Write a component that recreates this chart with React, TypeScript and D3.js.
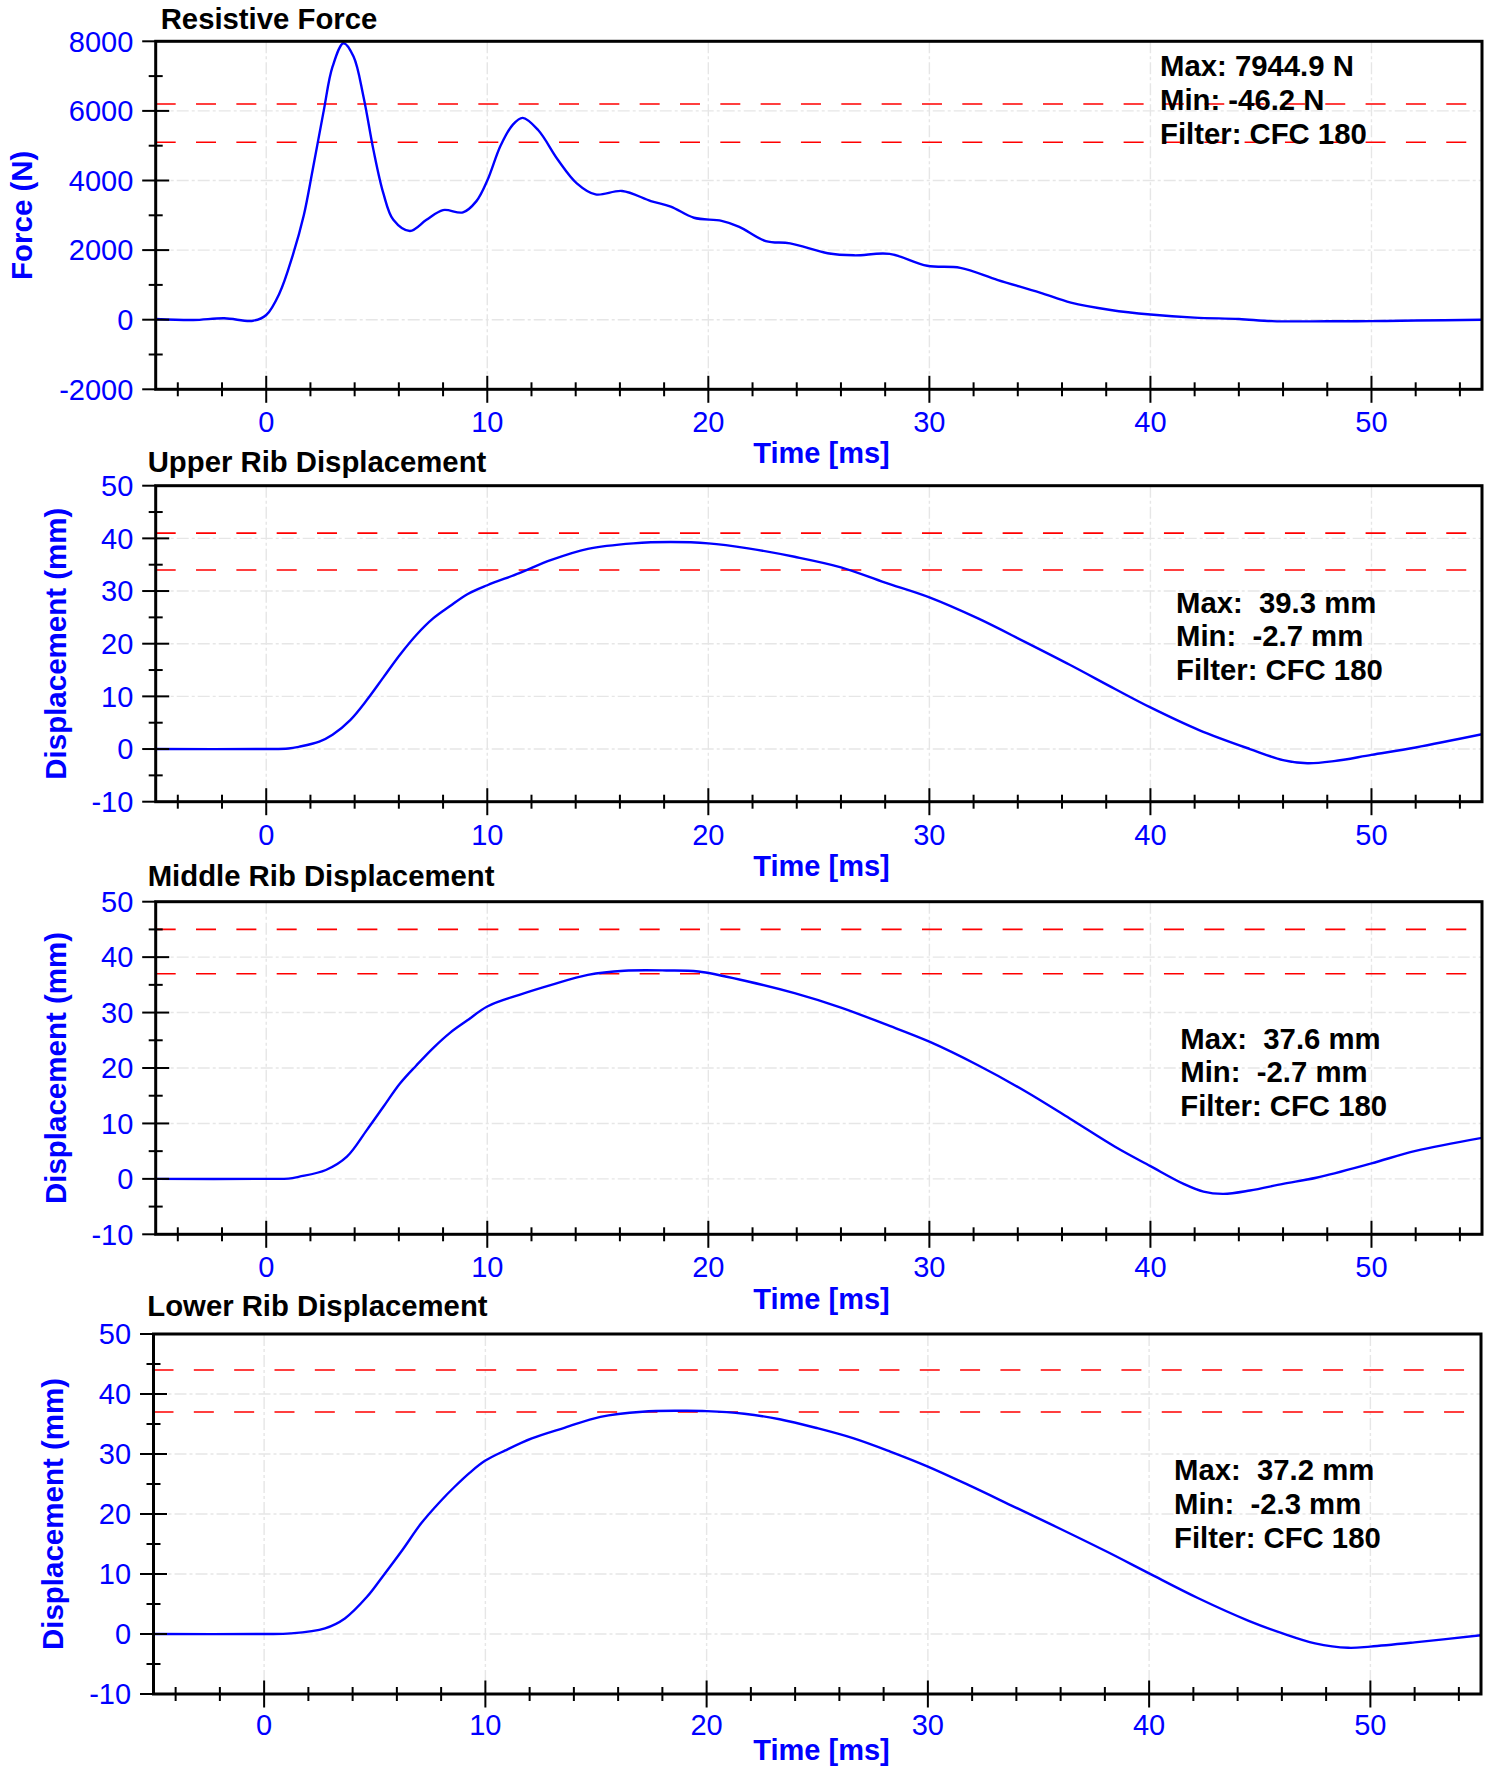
import React from "react";
import * as d3 from "d3";

// ---------- data ----------
const timeDomain = [-5, 55];
const timeMajorTicks = [0, 10, 20, 30, 40, 50];
const timeMinorTicks = [-4, -2, 2, 4, 6, 8, 12, 14, 16, 18, 22, 24, 26, 28, 32, 34, 36, 38, 42, 44, 46, 48, 52, 54];

const forceYTicks = [-2000, 0, 2000, 4000, 6000, 8000];
const forceYMinor = [-1000, 1000, 3000, 5000, 7000];
const dispYTicks = [-10, 0, 10, 20, 30, 40, 50];
const dispYMinor = [-5, 5, 15, 25, 35, 45];

const forceT = [-5, -3.3, -1.9, -0.6, 0, 0.6, 1.2, 1.7, 2.1, 2.6, 3.0, 3.5, 3.95, 4.4, 4.85, 5.3, 5.75, 6.5, 7.25, 8.0, 8.9, 9.5, 10.0, 10.6, 11.15, 11.6, 12.3, 13.2, 14.05, 14.9, 16.1, 17.4, 18.3, 19.35, 20.6, 21.4, 22.6, 23.7, 25.4, 26.6, 28.2, 29.9, 31.4, 33.1, 35.0, 36.4, 38.2, 40.0, 42.0, 44.0, 45.5, 48.0, 50.0, 52.0, 55.0];
const forceN = [20, -10, 40, -30, 135, 760, 1850, 3000, 4300, 6000, 7270, 7945, 7560, 6410, 4880, 3630, 2870, 2550, 2870, 3150, 3085, 3400, 4000, 5000, 5600, 5800, 5450, 4590, 3920, 3600, 3700, 3410, 3250, 2930, 2840, 2670, 2260, 2195, 1910, 1850, 1890, 1550, 1490, 1140, 780, 490, 280, 150, 60, 20, -40, -46, -40, -25, 0];

const upperT = [-5, 0, 1, 1.5, 2.4, 3.0, 3.8, 4.55, 5.3, 6.05, 6.8, 7.55, 8.3, 9.1, 10, 11.45, 12.9, 14.55, 16.6, 18.3, 20, 21.8, 23.9, 26, 28, 30, 32.2, 34.3, 36.35, 38.4, 40, 42.2, 44.5, 46, 47.1, 48.3, 50, 52, 55];
const upperD = [0, 0, 0.1, 0.45, 1.4, 2.7, 5.5, 9.3, 13.6, 17.9, 21.7, 24.8, 27.1, 29.4, 31.1, 33.4, 35.9, 38, 39.05, 39.3, 39.05, 38.1, 36.5, 34.5, 31.6, 28.8, 24.8, 20.4, 16, 11.4, 7.9, 3.6, 0, -2.1, -2.7, -2.3, -1.1, 0.3, 2.8];

const middleT = [-5, 0, 1, 1.5, 2.7, 3.65, 4.55, 5.3, 6.05, 6.8, 7.55, 8.3, 9.1, 10, 11.45, 12.9, 14.55, 16.2, 18.1, 19.55, 21.8, 23.9, 26, 28, 30, 32.2, 34.3, 36.35, 38.4, 40, 41.5, 42.4, 43.3, 44.5, 46, 47.5, 50, 52, 55];
const middleD = [0, 0, 0.05, 0.4, 1.6, 4.0, 8.8, 13, 17.2, 20.5, 23.6, 26.3, 28.6, 31.1, 33.2, 35, 36.8, 37.55, 37.6, 37.4, 35.6, 33.5, 30.9, 27.9, 24.75, 20.5, 15.9, 10.9, 5.8, 2.3, -0.9, -2.3, -2.7, -2.1, -0.9, 0.2, 2.8, 5.05, 7.4];

const lowerT = [-5, 0, 1.2, 2.75, 3.65, 4.65, 5.35, 6.25, 7.1, 7.95, 8.6, 9.3, 10, 10.9, 12.1, 13.6, 15.2, 17.1, 18.8, 20, 21.7, 23.3, 25, 26.65, 28.3, 30, 31.85, 33.9, 36, 38.1, 40, 42.2, 44.5, 46, 47.5, 49, 50, 52, 55];
const lowerD = [0, 0, 0.1, 0.95, 2.6, 6.2, 9.55, 14, 18.45, 22.05, 24.5, 26.9, 28.9, 30.6, 32.6, 34.4, 36.2, 37.05, 37.2, 37.15, 36.7, 35.8, 34.3, 32.6, 30.4, 27.9, 24.8, 21.2, 17.5, 13.7, 10.1, 6, 2.2, 0.15, -1.55, -2.3, -2.1, -1.4, -0.2];

const forceLimits = [6200, 5100];
const upperLimits = [41, 34];
const middleLimits = [45, 37];
const lowerLimits = [44, 37];

const titles = ["Resistive Force", "Upper Rib Displacement", "Middle Rib Displacement", "Lower Rib Displacement"];
const yLabels = ["Force (N)", "Displacement (mm)", "Displacement (mm)", "Displacement (mm)"];
const xLabel = "Time [ms]";

const forceStats = ["Max: 7944.9 N", "Min: -46.2 N", "Filter: CFC 180"];
const upperStats = ["Max:  39.3 mm", "Min:  -2.7 mm", "Filter: CFC 180"];
const middleStats = ["Max:  37.6 mm", "Min:  -2.7 mm", "Filter: CFC 180"];
const lowerStats = ["Max:  37.2 mm", "Min:  -2.3 mm", "Filter: CFC 180"];

// ---------- layout ----------
const FONT = "'Liberation Sans', Arial, Helvetica, sans-serif";
const BLUE = "#0000ff";

type PanelCfg = {
  left: number; right: number; top: number; bottom: number;
  yDomain: number[]; yTicks: number[]; yMinor: number[];
  t: number[]; v: number[]; limits: number[];
  title: string; titleX: number; titleY: number;
  yLabel: string; yLabelX: number;
  stats: string[]; statsX: number; statsY: number; statsDy: number;
  tickLabelDy: number; xLabelDy: number;
};

const panels: PanelCfg[] = [
  {
    left: 155.7, right: 1482, top: 41.3, bottom: 389.3,
    yDomain: [-2000, 8000], yTicks: forceYTicks, yMinor: forceYMinor,
    t: forceT, v: forceN, limits: forceLimits,
    title: titles[0], titleX: 160.7, titleY: 29.3,
    yLabel: yLabels[0], yLabelX: 32.3,
    stats: forceStats, statsX: 1160, statsY: 76, statsDy: 34,
    tickLabelDy: 43, xLabelDy: 73.5,
  },
  {
    left: 155.7, right: 1482, top: 485.7, bottom: 801.7,
    yDomain: [-10, 50], yTicks: dispYTicks, yMinor: dispYMinor,
    t: upperT, v: upperD, limits: upperLimits,
    title: titles[1], titleX: 147.7, titleY: 472.3,
    yLabel: yLabels[1], yLabelX: 65.7,
    stats: upperStats, statsX: 1176, statsY: 612.7, statsDy: 33.4,
    tickLabelDy: 43, xLabelDy: 74.5,
  },
  {
    left: 155.7, right: 1482, top: 901.7, bottom: 1234.3,
    yDomain: [-10, 50], yTicks: dispYTicks, yMinor: dispYMinor,
    t: middleT, v: middleD, limits: middleLimits,
    title: titles[2], titleX: 147.7, titleY: 885.7,
    yLabel: yLabels[2], yLabelX: 65.7,
    stats: middleStats, statsX: 1180.3, statsY: 1048.5, statsDy: 33.6,
    tickLabelDy: 43, xLabelDy: 74.5,
  },
  {
    left: 153.5, right: 1481, top: 1334, bottom: 1694,
    yDomain: [-10, 50], yTicks: dispYTicks, yMinor: dispYMinor,
    t: lowerT, v: lowerD, limits: lowerLimits,
    title: titles[3], titleX: 147.3, titleY: 1315.5,
    yLabel: yLabels[3], yLabelX: 63.3,
    stats: lowerStats, statsX: 1174, statsY: 1479.5, statsDy: 34,
    tickLabelDy: 41, xLabelDy: 66,
  },
];

function Panel({ cfg, idx }: { cfg: PanelCfg; idx: number }) {
  const x = d3.scaleLinear().domain(timeDomain).range([cfg.left, cfg.right]);
  const y = d3.scaleLinear().domain(cfg.yDomain).range([cfg.bottom, cfg.top]);
  const pts: [number, number][] = cfg.t.map((t, i) => [t, cfg.v[i]]);
  const line = d3
    .line<[number, number]>()
    .x((d) => x(d[0]))
    .y((d) => y(d[1]))
    .curve(d3.curveCatmullRom.alpha(0.5));
  const clipId = `clip-${idx}`;
  const w = cfg.right - cfg.left;
  const h = cfg.bottom - cfg.top;
  const midY = (cfg.top + cfg.bottom) / 2;
  const gridColor = "#e6e6e6";

  return (
    <g>
      <defs>
        <clipPath id={clipId}>
          <rect x={cfg.left} y={cfg.top} width={w} height={h} />
        </clipPath>
      </defs>
      {/* grid */}
      {timeMajorTicks.map((t) => (
        <line key={`gx${t}`} x1={x(t)} x2={x(t)} y1={cfg.top} y2={cfg.bottom}
          stroke={gridColor} strokeWidth={1.4} strokeDasharray="12 3 3 3" />
      ))}
      {cfg.yTicks.slice(1, -1).map((v) => (
        <line key={`gy${v}`} x1={cfg.left} x2={cfg.right} y1={y(v)} y2={y(v)}
          stroke={gridColor} strokeWidth={1.4} strokeDasharray="12 3 3 3" />
      ))}
      {/* limits */}
      {cfg.limits.map((v) => (
        <line key={`lim${v}`} x1={cfg.left} x2={cfg.right} y1={y(v)} y2={y(v)}
          stroke="#ff0000" strokeWidth={1.6} strokeDasharray="20 20.33" />
      ))}
      {/* curve */}
      <path d={line(pts) || ""} fill="none" stroke={BLUE} strokeWidth={2.4}
        clipPath={`url(#${clipId})`} strokeLinejoin="round" />
      {/* frame */}
      <rect x={cfg.left} y={cfg.top} width={w} height={h} fill="none" stroke="#000" strokeWidth={3} />
      {/* y ticks */}
      {cfg.yTicks.map((v) => (
        <line key={`yt${v}`} x1={cfg.left - 13.5} x2={v === cfg.yDomain[1] || v === cfg.yDomain[0] ? cfg.left : cfg.left + 13.5}
          y1={y(v)} y2={y(v)} stroke="#000" strokeWidth={2} />
      ))}
      {cfg.yMinor.map((v) => (
        <line key={`ym${v}`} x1={cfg.left - 7} x2={cfg.left + 7} y1={y(v)} y2={y(v)} stroke="#000" strokeWidth={2} />
      ))}
      {/* x ticks */}
      {timeMajorTicks.map((t) => (
        <line key={`xt${t}`} x1={x(t)} x2={x(t)} y1={cfg.bottom - 13.5} y2={cfg.bottom + 13.5} stroke="#000" strokeWidth={2} />
      ))}
      {timeMinorTicks.map((t) => (
        <line key={`xm${t}`} x1={x(t)} x2={x(t)} y1={cfg.bottom - 7} y2={cfg.bottom + 7} stroke="#000" strokeWidth={2} />
      ))}
      {/* y tick labels */}
      {cfg.yTicks.map((v) => (
        <text key={`yl${v}`} x={cfg.left - 22.4} y={y(v) + 10.3} textAnchor="end"
          fontFamily={FONT} fontSize={29} fill={BLUE}>{v}</text>
      ))}
      {/* x tick labels */}
      {timeMajorTicks.map((t) => (
        <text key={`xl${t}`} x={x(t)} y={cfg.bottom + cfg.tickLabelDy} textAnchor="middle"
          fontFamily={FONT} fontSize={29} fill={BLUE}>{t}</text>
      ))}
      {/* x label */}
      <text x={821.5} y={cfg.bottom + cfg.xLabelDy} textAnchor="middle" fontFamily={FONT}
        fontSize={29} fontWeight="bold" fill={BLUE}>{xLabel}</text>
      {/* y label */}
      <text transform={`translate(${cfg.yLabelX},${midY}) rotate(-90)`} textAnchor="middle"
        fontFamily={FONT} fontSize={29.5} fontWeight="bold" fill={BLUE}>{cfg.yLabel}</text>
      {/* title */}
      <text x={cfg.titleX} y={cfg.titleY} fontFamily={FONT} fontSize={29.3} fontWeight="bold" fill="#000">{cfg.title}</text>
      {/* stats */}
      {cfg.stats.map((s, i) => (
        <text key={`st${i}`} x={cfg.statsX} y={cfg.statsY + i * cfg.statsDy} fontFamily={FONT}
          fontSize={29.3} fontWeight="bold" fill="#000" style={{ whiteSpace: "pre" }}>{s}</text>
      ))}
    </g>
  );
}

export default function App() {
  return (
    <svg width={1492} height={1766} viewBox="0 0 1492 1766"
      style={{ position: "absolute", left: 0, top: 0, background: "#fff" }}>
      <rect x={0} y={0} width={1492} height={1766} fill="#fff" />
      {panels.map((p, i) => (
        <Panel key={i} cfg={p} idx={i} />
      ))}
    </svg>
  );
}
